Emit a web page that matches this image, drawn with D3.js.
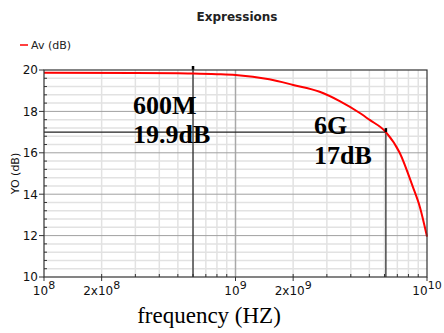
<!DOCTYPE html>
<html>
<head>
<meta charset="utf-8">
<script src="https://cdn.jsdelivr.net/npm/d3@7"></script>
<style>
  body { margin: 0; background: #fff; }
  .sans { font-family: "DejaVu Sans", sans-serif; }
  .serif { font-family: "Liberation Serif", "Times New Roman", serif; }
</style>
</head>
<body>
<div id="chart"></div>
<script>
// curve data
var freq = [1e8, 3e8, 5e8, 6e8, 8e8, 1e9, 1.5e9, 2e9, 2.75e9, 3.5e9, 4.5e9, 5e9, 6.1e9, 7.2e9, 8.4e9, 9.2e9, 1e10];
var gainDb = [19.87, 19.86, 19.84, 19.83, 19.80, 19.76, 19.55, 19.28, 18.95, 18.5, 17.9, 17.6, 17.0, 16.0, 14.4, 13.35, 11.95];

// marker points
var markerFreq = [6e8, 6.1e9];
var markerDb = [19.9, 17.0];
var markerText = [["600M", "19.9dB"], ["6G", "17dB"]];

// tick labels
var xTickVals = [1e8, 2e8, 1e9, 2e9, 1e10];
var xTickBase = ["10", "2x10", "10", "2x10", "10"];
var xTickExp = ["8", "8", "9", "9", "10"];
var yTickVals = [10, 12, 14, 16, 18, 20];

var svgW = 444, svgH = 333;
var margin = {top: 70, right: 17, bottom: 56, left: 44};
var width = svgW - margin.left - margin.right;
var height = svgH - margin.top - margin.bottom;

var svg = d3.select("#chart").append("svg")
    .attr("width", svgW)
    .attr("height", svgH);

var g = svg.append("g")
    .attr("transform", `translate(${margin.left}, ${margin.top})`);

var x = d3.scaleLog().domain([1e8, 1e10]).range([0, width]);
var y = d3.scaleLinear().domain([10, 20]).range([height, 0]);

// minor x gridlines (2..9 per decade)
var xMinor = [];
[1e8, 1e9].forEach(function(d) {
    for (var k = 2; k <= 9; k++) xMinor.push(d * k);
});
var yMinor = d3.range(10, 20.01, 0.4).filter(v => Math.abs(v / 2 - Math.round(v / 2)) > 0.01);

g.selectAll(".xminor").data(xMinor).enter().append("line")
    .attr("x1", d => x(d)).attr("x2", d => x(d))
    .attr("y1", 0).attr("y2", height)
    .attr("stroke", "#e2e2e2").attr("stroke-width", 1.5);

g.selectAll(".yminor").data(yMinor).enter().append("line")
    .attr("x1", 0).attr("x2", width)
    .attr("y1", d => y(d)).attr("y2", d => y(d))
    .attr("stroke", "#e2e2e2").attr("stroke-width", 1.5);

// major gridlines
g.append("line")
    .attr("x1", x(1e9)).attr("x2", x(1e9))
    .attr("y1", 0).attr("y2", height)
    .attr("stroke", "#a8a8a8").attr("stroke-width", 1.5);

g.selectAll(".ymajor").data([12, 14, 16, 18]).enter().append("line")
    .attr("x1", 0).attr("x2", width)
    .attr("y1", d => y(d)).attr("y2", d => y(d))
    .attr("stroke", "#a0a0a0").attr("stroke-width", 1);

// minor ticks inside the frame
g.selectAll(".xmt").data(xMinor).enter().append("line")
    .attr("x1", d => x(d)).attr("x2", d => x(d))
    .attr("y1", height).attr("y2", height - 3)
    .attr("stroke", "#333");
g.selectAll(".ymt").data(yMinor).enter().append("line")
    .attr("x1", 0).attr("x2", 3)
    .attr("y1", d => y(d)).attr("y2", d => y(d))
    .attr("stroke", "#333");

// marker lines
g.append("line")
    .attr("x1", x(markerFreq[0])).attr("x2", x(markerFreq[0]))
    .attr("y1", 0).attr("y2", height)
    .attr("stroke", "#222").attr("stroke-width", 1.2);
g.append("line")
    .attr("x1", 0).attr("x2", x(markerFreq[1]))
    .attr("y1", y(markerDb[1])).attr("y2", y(markerDb[1]))
    .attr("stroke", "#222").attr("stroke-width", 1.2);
g.append("line")
    .attr("x1", x(markerFreq[1])).attr("x2", x(markerFreq[1]))
    .attr("y1", y(markerDb[1])).attr("y2", height)
    .attr("stroke", "#222").attr("stroke-width", 1.2);

// curve
var line = d3.line()
    .x((d, i) => x(freq[i]))
    .y(d => y(d))
    .curve(d3.curveMonotoneX);

g.append("path")
    .datum(gainDb)
    .attr("d", line)
    .attr("fill", "none")
    .attr("stroke", "#ff0000")
    .attr("stroke-width", 2);

// marker pins
markerFreq.forEach(function(f, i) {
    var px = x(f), py = y(i === 0 ? 20 : markerDb[i]);
    g.append("line")
        .attr("x1", px).attr("x2", px)
        .attr("y1", py - 4).attr("y2", py)
        .attr("stroke", "#000").attr("stroke-width", 2.5);
});

// frame
g.append("rect")
    .attr("width", width).attr("height", height)
    .attr("fill", "none").attr("stroke", "#333").attr("stroke-width", 1.2);

// x axis labels and outer ticks
var xt = g.selectAll(".xt").data(xTickVals).enter().append("g")
    .attr("transform", d => `translate(${x(d)}, ${height})`);
xt.append("line").attr("y1", 0).attr("y2", 4).attr("stroke", "#333");
var xl = xt.append("text")
    .classed("sans", true)
    .attr("y", 18)
    .attr("text-anchor", "middle")
    .attr("font-size", "12px")
    .attr("fill", "#111");
xl.append("tspan").text((d, i) => xTickBase[i]);
xl.append("tspan").attr("dy", -6).attr("font-size", "11px").text((d, i) => xTickExp[i]);

// y axis labels and outer ticks
var yt = g.selectAll(".yt").data(yTickVals).enter().append("g")
    .attr("transform", d => `translate(0, ${y(d)})`);
yt.append("line").attr("x1", -5).attr("x2", 0).attr("stroke", "#333");
yt.append("text")
    .classed("sans", true)
    .attr("x", -6)
    .attr("dy", "0.36em")
    .attr("text-anchor", "end")
    .attr("font-size", "12px")
    .attr("fill", "#111")
    .text(d => d);

// y axis title
svg.append("text")
    .classed("sans", true)
    .attr("transform", `translate(19, ${margin.top + height / 2}) rotate(-90)`)
    .attr("text-anchor", "middle")
    .attr("font-size", "11px")
    .attr("fill", "#111")
    .text("YO (dB)");

// chart title
svg.append("text")
    .classed("sans", true)
    .attr("x", 237).attr("y", 21)
    .attr("text-anchor", "middle")
    .attr("font-size", "12px")
    .attr("font-weight", "bold")
    .attr("fill", "#222")
    .text("Expressions");

// legend
svg.append("line")
    .attr("x1", 20).attr("x2", 28).attr("y1", 45).attr("y2", 45)
    .attr("stroke", "#ff0000").attr("stroke-width", 1.5);
svg.append("text")
    .classed("sans", true)
    .attr("x", 31).attr("y", 48.5)
    .attr("font-size", "11px")
    .attr("fill", "#222")
    .text("Av (dB)");

// marker annotations
var annPos = [[133, 114, 143], [314, 134, 164]];
markerText.forEach(function(t, i) {
    t.forEach(function(s, j) {
        svg.append("text")
            .classed("serif", true)
            .attr("x", annPos[i][0]).attr("y", annPos[i][j + 1])
            .attr("font-weight", "bold")
            .attr("font-size", "26px")
            .attr("fill", "#000")
            .text(s);
    });
});

// x axis title
svg.append("text")
    .classed("serif", true)
    .attr("x", 209).attr("y", 323)
    .attr("text-anchor", "middle")
    .attr("font-size", "23px")
    .attr("fill", "#000")
    .text("frequency (HZ)");
</script>
</body>
</html>
